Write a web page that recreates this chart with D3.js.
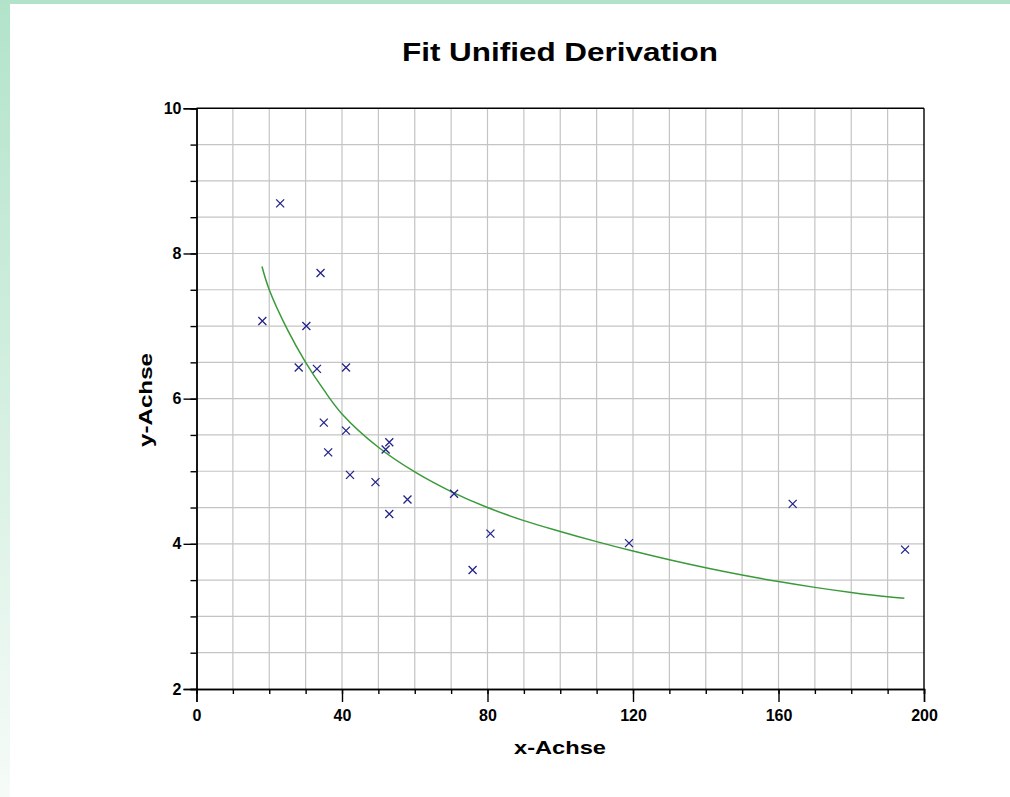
<!DOCTYPE html>
<html>
<head>
<meta charset="utf-8">
<script src="https://cdn.jsdelivr.net/npm/d3@7/dist/d3.min.js"></script>
<style>
  html, body { margin: 0; padding: 0; background: #ffffff; }
  svg { display: block; }
</style>
</head>
<body>
<svg id="chart" width="1010" height="797"></svg>
<script>
// ---- data ----
const pointX = [18.1, 23.0, 30.2, 28.1, 34.1, 33.1, 41.1, 35.0, 36.2, 41.1, 42.2,
                53.0, 52.0, 49.2, 53.0, 58.0, 70.8, 75.9, 80.8, 118.9, 163.9, 194.8];
const pointY = [7.07, 8.69, 7.00, 6.43, 7.73, 6.41, 6.43, 5.67, 5.26, 5.56, 4.95,
                5.40, 5.30, 4.85, 4.41, 4.61, 4.69, 3.64, 4.14, 4.01, 4.55, 3.92];

const fitX = [18, 20, 25, 30, 35, 40, 50, 60, 70, 80, 90, 100, 110, 120, 130, 140, 150, 160, 170, 180, 190, 194.6];
const fitY = [7.82, 7.50, 6.95, 6.50, 6.12, 5.79, 5.33, 4.99, 4.72, 4.50, 4.32, 4.17, 4.03, 3.90, 3.78, 3.67, 3.57, 3.48, 3.40, 3.33, 3.27, 3.25];

const xMajorTicks = [0, 40, 80, 120, 160, 200];
const xMinorTicks = d3.range(0, 201, 10);
const yMajorTicks = [2, 4, 6, 8, 10];
const yMinorTicks = d3.range(2, 10.01, 0.5);

const titleText = "Fit Unified Derivation";
const xTitle = "x-Achse";
const yTitle = "y-Achse";

// ---- drawing ----
const svg = d3.select("#chart");

const defs = svg.append("defs");
const grad = defs.append("linearGradient").attr("id", "leftGrad")
  .attr("x1", 0).attr("y1", 0).attr("x2", 0).attr("y2", 1);
grad.append("stop").attr("offset", "0%").attr("stop-color", "#b2e3ca");
grad.append("stop").attr("offset", "100%").attr("stop-color", "#f6fbf8");
svg.append("rect").attr("x", 0).attr("y", 0).attr("width", 1010).attr("height", 797).attr("fill", "#ffffff");
svg.append("rect").attr("x", 0).attr("y", 0).attr("width", 10).attr("height", 797).attr("fill", "url(#leftGrad)");
svg.append("rect").attr("x", 0).attr("y", 0).attr("width", 1010).attr("height", 4).attr("fill", "#b2e3ca");

const x = d3.scaleLinear().domain([0, 200]).range([196.5, 924]);
const y = d3.scaleLinear().domain([2, 10]).range([689, 108.3]);

// grid
const grid = svg.append("g").attr("stroke", "#c4c4c4").attr("stroke-width", 1.2);
grid.selectAll("line.v").data(xMinorTicks.slice(1, -1)).join("line")
  .attr("x1", d => x(d)).attr("x2", d => x(d))
  .attr("y1", y(2)).attr("y2", y(10));
grid.selectAll("line.h").data(yMinorTicks.slice(1, -1)).join("line")
  .attr("class", "h")
  .attr("x1", x(0)).attr("x2", x(200))
  .attr("y1", d => y(d)).attr("y2", d => y(d));

// frame (top & right)
svg.append("line").attr("x1", x(0)).attr("x2", x(200)).attr("y1", y(10)).attr("y2", y(10))
  .attr("stroke", "#000").attr("stroke-width", 1.4);
svg.append("line").attr("x1", x(200)).attr("x2", x(200)).attr("y1", y(10)).attr("y2", y(2))
  .attr("stroke", "#000").attr("stroke-width", 1.4);

const fontFam = "'Liberation Sans', Arial, sans-serif";

function styleAxis(g) {
  g.select(".domain").attr("stroke", "#000").attr("stroke-width", 1.4);
  g.selectAll(".tick line").attr("stroke", "#000").attr("stroke-width", 1.4);
  g.selectAll(".tick text").attr("fill", "#000")
    .style("font-family", fontFam).style("font-size", "16px").style("font-weight", "bold");
}

svg.append("g").attr("transform", `translate(${x(0)},0)`)
  .call(d3.axisLeft(y).tickValues(yMinorTicks).tickSize(6).tickFormat(""))
  .call(styleAxis);
svg.append("g").attr("transform", `translate(${x(0)},0)`)
  .call(d3.axisLeft(y).tickValues(yMajorTicks).tickSize(13).tickPadding(2).tickFormat(d3.format("d")))
  .call(styleAxis);

svg.append("g").attr("transform", `translate(0,${y(2)})`)
  .call(d3.axisBottom(x).tickValues(xMinorTicks).tickSize(5).tickFormat(""))
  .call(styleAxis);
svg.append("g").attr("transform", `translate(0,${y(2)})`)
  .call(d3.axisBottom(x).tickValues(xMajorTicks).tickSize(13).tickPadding(8).tickFormat(d3.format("d")))
  .call(styleAxis);

// fit curve
const fitData = fitX.map((d, i) => [d, fitY[i]]);
svg.append("path").datum(fitData)
  .attr("fill", "none").attr("stroke", "#3a9a3a").attr("stroke-width", 1.5)
  .attr("d", d3.line().x(d => x(d[0])).y(d => y(d[1])).curve(d3.curveCatmullRom));

// points as x markers
const pts = pointX.map((d, i) => [d, pointY[i]]);
const s = 4;
svg.append("g").selectAll("path").data(pts).join("path")
  .attr("d", d => {
    const cx = x(d[0]), cy = y(d[1]);
    return `M${cx - s},${cy - s}L${cx + s},${cy + s}M${cx - s},${cy + s}L${cx + s},${cy - s}`;
  })
  .attr("stroke", "#22228a").attr("stroke-width", 1.3).attr("fill", "none");

// titles
svg.append("text").attr("x", 560).attr("y", 61).attr("text-anchor", "middle")
  .attr("textLength", 316).attr("lengthAdjust", "spacingAndGlyphs")
  .style("font-family", fontFam).style("font-size", "25px").style("font-weight", "bold")
  .attr("fill", "#000").text(titleText);

svg.append("text").attr("x", 560).attr("y", 754).attr("text-anchor", "middle")
  .attr("textLength", 92).attr("lengthAdjust", "spacingAndGlyphs")
  .style("font-family", fontFam).style("font-size", "19px").style("font-weight", "bold")
  .attr("fill", "#000").text(xTitle);

svg.append("text").attr("transform", "translate(152,400) rotate(-90)").attr("text-anchor", "middle")
  .attr("textLength", 94).attr("lengthAdjust", "spacingAndGlyphs")
  .style("font-family", fontFam).style("font-size", "19px").style("font-weight", "bold")
  .attr("fill", "#000").text(yTitle);
</script>
</body>
</html>
